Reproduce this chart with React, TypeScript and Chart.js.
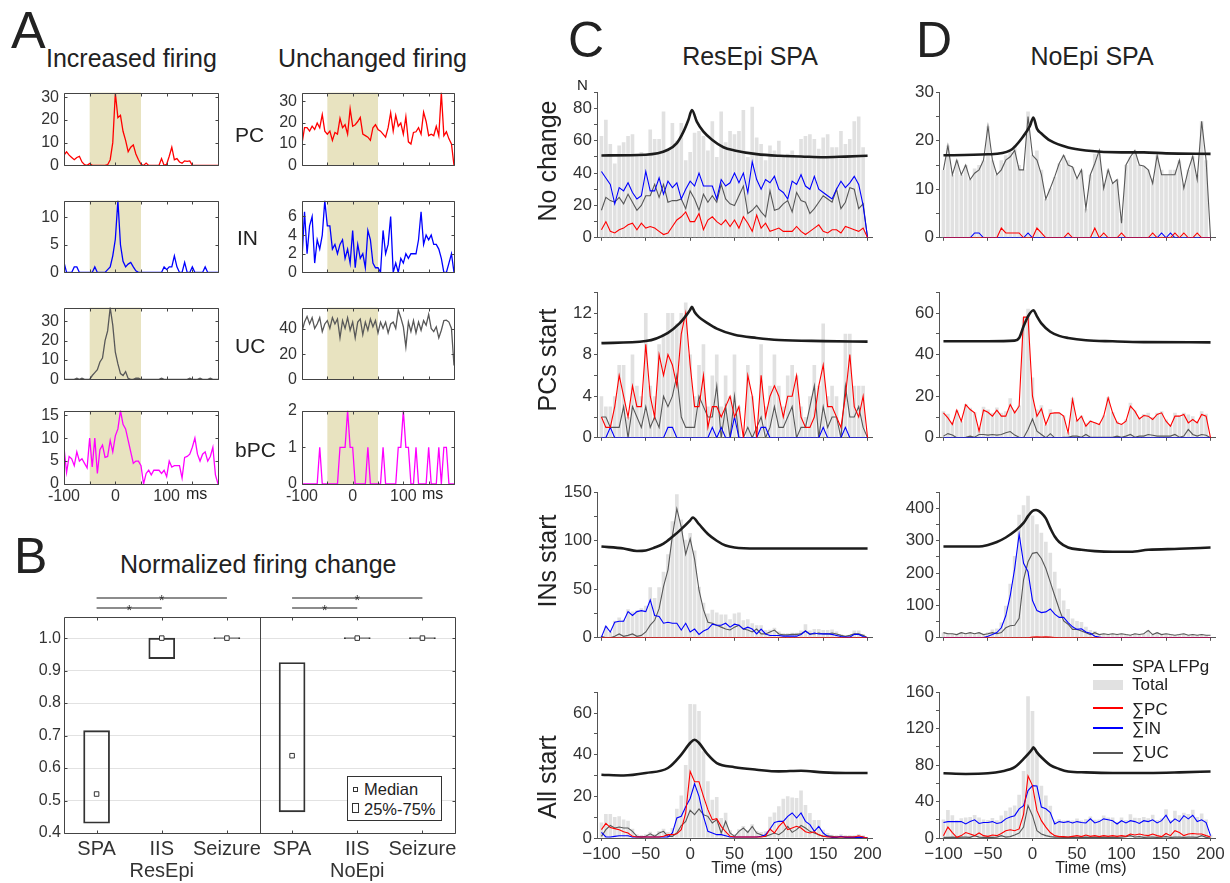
import React, { useEffect, useRef } from "react";
import { Chart, registerables } from "chart.js";

Chart.register(...registerables);

const FONT = "'Liberation Sans', Arial, Helvetica, sans-serif";
Chart.defaults.font.family = FONT;
Chart.defaults.color = "#333";

// ================= DATA =================
// time bins (ms)
const BINS = [-100,-95,-90,-85,-80,-75,-70,-65,-60,-55,-50,-45,-40,-35,-30,-25,-20,-15,-10,-5,0,5,10,15,20,25,30,35,40,45,50,55,60,65,70,75,80,85,90,95,100,105,110,115,120,125,130,135,140,145,150,155,160,165,170,175,180,185,190,195,200];

// ---- Panel A ----
const A_X_TICKS = [-100, -50, 0, 50, 100, 150, 200];
const A_X_TICK_LABELS = ["-100", "", "0", "", "100", "", ""];
const A_WINDOW = [-50, 50];

const incPC = [4.5,6,4.5,3.5,2.5,3.5,4,1.5,0.3,0,0.8, 0,0,0,0,0,0, 0.3,2.5,10,31.8,21,22,15,11,6,8,9,5,2.5,0.5,0,1, 0,0,0,0,0, 3,0,0.5,4,8,2.5,3,1.5,1,2,1.8,2, 0,0,0,0,0,0,0,0,0,0,0];
const incIN = [1.8,0,0,0,1,1,0,0,0,0,0,0,1,0,0,0,0, 0.5,1,3,6,13,5,2,1,1.5,1.8,1,0.3, 0,0,0,0,0,0,0,0,0,0, 1,0.5,1,1,3,1,0,0,1.8,0,0,1, 0,0,0,0, 1, 0,0,0,0,0];
const incUC = [0,0,0,0,0,0.6,0,0.6,0,0,0, 2,3.5,5,9,11,20,25,37,28,14,8,3,2,4,0.5, 0,0, 0.6,0.6, 0,0,0,0,0,0,0,0, 0.6, 0,0,0,0,0,0,0,0,0,0, 0.6, 0,0,0, 0.6, 0,0,0, 0.6, 0,0,0];
const incBPC = [8,2.5,6,5.5,4,7,5,5.5,4.5,3.5, 10,3.7,10,2.3,7.5,8.5,5.8,6,9.5,7, 10.5,12,16,13,12,9.5,7,4.5,5,5, 4,0,2.3,3,2,3,3,3,2.3,3, 1.6,5,3.7,4,4,4,1.3,5.8,6,6.5, 8,10,6.5,5,6.5,7,5,6,8,2, 0];
const uncPC = [10.2,17.6,17.6,16,18.3,16.8,19.8,17.6,23.7,16,14.6,16,11.7,15.4,14.6,22,17.6,19,14.6,26.4,18.3,19,20.5,22.4,14.6,13.9,13.2,11.7,17.6,19,16.8,16,14.6,13.2,17.6,24.6,16,23.4,18.3,19.8,14.6,22.7,11,10,15.4,15.7,17.6,14.6,24.9,20.5,13.9,14.6,13.9,18.3,13.9,34,13.9,15.7,12.4,10,0];
const uncIN = [1.5,6.5,2,5,6,1,3.5,2.5,4,7.7, 5,5,2.5,3,2,3,3.5,1.5,2.5,1, 4.5,0.5,3,1.5,2,0.5,4.5,3.5,1,0.5, 0.5,0,4.5,2,3,6,0,1,0,1.5, 1,2,1.5,2,2,2,3.5,6.5,3,4, 3.5,4,3,3,2.5,1.5,0,0,1,2, 0];
const uncUC = [38,45.5,50,44,49,40.5,44,49,38,44,46.7,40.5,49,44,48,33,46.7,40.5,49,39,45.5,33,45.5,48,35.6,45.5,39,48,41.8,46.7,36.9,45.5,40.5,45.5,36.9,44,45.5,40.5,55,49,41.8,25.8,45.5,38,46.7,36.9,45.5,39,46.7,43,51.6,40.5,38,41.8,33,39,46.7,47,45.5,40.5,11];
const uncBPC = [0,0,0,0,0,0,0,1,0,0, 0,0,0,0,0,1,1,1,2,1, 1,0,0,0,0,0,1,0,0,0, 0,0,1,0,0,0,0,0,1,1, 2,1,1,0,0,1,0,0,0,0, 1,0,0,0,1,0,1,1,0,0, 0];

const INC_PC_YTICKS = [0, 10, 20, 30];
const INC_IN_YTICKS = [0, 5, 10];
const INC_UC_YTICKS = [0, 10, 20, 30];
const INC_BPC_YTICKS = [0, 5, 10, 15];
const UNC_PC_YTICKS = [0, 10, 20, 30];
const UNC_IN_YTICKS = [0, 2, 4, 6];
const UNC_UC_YTICKS = [0, 20, 40];
const UNC_BPC_YTICKS = [0, 1, 2];

// ---- Panel B ----
const B_LABELS = ["SPA", ["IIS", "ResEpi"], "Seizure", "SPA", ["IIS", "NoEpi"], "Seizure"];
const B_QUARTILES = [[0.43, 0.715], [0.937, 1.0], [0.998, 1.002], [0.465, 0.925], [0.998, 1.002], [0.998, 1.002]];
const B_MEDIANS = [0.52, 1.0, 1.0, 0.638, 1.0, 1.0];
const B_YTICKS = [0.4, 0.5, 0.6, 0.7, 0.8, 0.9, 1.0];
const B_SIG = [{ a: 0, b: 2, row: 1 }, { a: 0, b: 1, row: 0 }, { a: 3, b: 5, row: 1 }, { a: 3, b: 4, row: 0 }];

// ---- Panels C / D ----
const T_X_TICKS = [-100, -50, 0, 50, 100, 150, 200];
const T_X_TICK_LABELS = ["\u2212100", "\u221250", "0", "50", "100", "150", "200"];

// C: ResEpi, No change
const cNoTotal = [63,73,58,46,57,59,63,64,52,53,52,67,61,61,78,55,71,60,71,48,53,65,66,63,54,72,50,78,59,66,64,66,79,50,81,62,58,48,57,54,60,50,52,54,50,61,63,64,61,55,62,64,56,56,66,58,61,72,75,56,0];
const cNoPC = [5,10,4,3,5,6,8,9,5,9,6,7,6,4,2,3,7,11,13,16,10,10,15,5,11,13,10,8,11,7,11,6,13,9,4,14,6,9,4,5,6,4,4,4,7,4,2,4,6,8,4,3,5,5,3,7,6,5,4,6,0];
const cNoIN = [41,37,33,21,31,29,34,28,24,26,41,29,29,37,27,35,31,34,24,30,35,32,40,32,32,32,24,36,32,34,40,34,40,28,47,36,30,36,34,38,30,28,24,35,33,39,32,30,38,30,28,26,24,30,35,31,34,38,33,20,0];
const cNoUC = [17,25,23,22,25,21,27,22,17,20,26,26,33,25,33,22,23,23,24,18,29,24,17,27,22,26,22,33,24,21,20,26,32,15,17,20,16,13,29,17,18,21,23,16,28,23,22,15,18,22,26,24,22,30,18,22,31,30,18,21,0];
const cNoLfpX = [-100,-50,-25,-15,-7.5,-2,2,7.5,15,25,37.5,50,75,100,125,150,175,200];
const cNoLfpY = [50.9,51.3,54.4,58.5,65.6,72.8,79,71.8,65.6,60.5,56,54,51.7,50.7,50.3,49.8,50.2,50.7];
const C_NO_YTICKS = [0,10,20,30,40,50,60,70,80,90];
const C_NO_YLABELS = [0,20,40,60,80];

// C: ResEpi, PCs start
const cPcTotal = [4,3,3,4,7,7,2,8,5,4,12,5,4,9,10,12,12,11,12,13,8,4,7,9,3,6,8,3,6,4,8,3,0,7,4,1,9,3,5,8,5,3,6,7,6,3,2,4,7,5,11,4,5,4,1,10,10,5,5,5,0];
const cPcPC = [2,1,1,3,6,4,2,5,3,3,9,4,2,8,6,8,7,5,10,12,7,3,3,6,1,3,3,2,3,4,2,3,0,6,4,0,6,2,4,5,4,2,4,4,6,2,1,1,2,5,7,3,3,2,1,4,8,3,2,4,0];
const cPcIN = [0,0,1,0,0,0,0,0,0,0, 0,0,0,0,0,1,1,0,0,0, 0,0,0,0,0,1,0,1,0,0, 2,0,0,0,0,0,1,1,0,0, 0,0,0,0,0,0,0,0,0,0, 1,0,0,0,0,1,0,0,0,0, 0];
const cPcUC = [2,2,1,1,1,3,0,3,2,1,3,1,2,1,4,3,4,6,2,1,1,1,4,3,2,2,5,0,3,0,4,0,0,1,0,1,2,0,1,3,1,1,2,3,0,1,1,3,5,0,3,1,2,2,0,5,2,2,3,1,0];
const cPcLfpX = [-100,-50,-25,-12,-5,0,2,5,10,20,30,50,75,100,150,200];
const cPcLfpY = [9.1,9.3,10.1,11,11.7,12.3,12.6,12.1,11.6,11,10.5,9.9,9.6,9.4,9.3,9.25];
const C_PC_YTICKS = [0,2,4,6,8,10,12,14];
const C_PC_YLABELS = [0,4,8,12];

// C: ResEpi, INs start
const cInTotal = [2.2,12,6,17.5,21,18.5,29.5,27,28.5,30.5,33,52,41,52,68,86,120,148,122,101,108,90,52.5,36,25,29,26,24,24,19,25,26,18,19,15,13,13,8,8.4,10.4,6.4,4.7,4.7,5.2,5.2,7.5,14,7.5,9,9,8,8,8.5,6.4,3.9,2.2,3.2,7.5,7.5,3.9,0];
const cInPC = [0,0,0,0,0,0,0,0,0,0, 0,0,0,0,0,0,0,0,0,0, 0,0,0,0,0,0,0,0,0,0, 0,0,0,0,0,0,0,0,0,0, 0,0,0,0,0,0,0,0,0,0, 0,0,0,0,0,0,0,0,0,0, 0];
const cInIN = [0.7,12,6,16,17,17,27,23,27,28,27,39,23,22,15,16,15,15,8,15,6,9,3.5,7,9,14,13,13,15,11,14,13,9,11,9,4,9,4,2.4,2.4,2.4,1.7,1.7,1.7,1.7,3.5,7,3.5,5,4,4,4,3.5,2.4,1.4,0.7,0.7,3.5,3.5,1.4,0];
const cInUC = [1.5,0,0,1.5,4,1.5,2.5,4,1.5,2.5,6,13,18,30,53,70,105,133,114,86,102,81,49,29,16,15,13,11,9,8,11,13,9,8,6,9,4,4,6,8,4,3,3,3.5,3.5,4,7,4,4,5,4,4,5,4,2.5,1.5,2.5,4,4,2.5,0];
const cInLfpX = [-100,-75,-60,-50,-40,-30,-20,-10,0,3,10,20,30,40,50,75,100,150,200];
const cInLfpY = [94,92,89.5,90,93,97,104,112,121,124,117,107,100,95,93,92,92,92,92];
const C_IN_YTICKS = [0,25,50,75,100,125,150];
const C_IN_YLABELS = [0,50,100,150];

// C: ResEpi, All start
const cAllTotal = [7.5,11.5,11.5,10.1,10.4,8.9,8.3,4.5,1.8,1.5,1.8,3,1.8,3.4,4.5,2.9,4.8,14,20.4,35,64.3,64.2,61,41.6,27.2,18.4,19.7,9.6,12.1,3.7,1.8,4.2,5.8,3.7,6.6,3.4,2.9,3.2,10.2,12.3,15.2,18.9,20,19.5,19.2,22.8,15.8,12,8.6,8.7,4,2.4,1.6,1.3,1.8,1.3,1.3,1.3,1.9,1.3,0];
const cAllPC = [4,7,5,4.5,4,3,2.4,0.8,0.5,0.5, 0.5,0.5,0.5,0.5,0.8,1.6,1.6,2,4,12, 32,27,27,20,13.6,8.8,9.3,5.6,3,0.8, 0.5,0.5,0.5,0.5,0.5,0.5,0.5,0.8,4.3,2.4, 5.6,7.7,4,4.8,5.6,4.8,3,2.4,3,1.5, 0.8,0.5,0.5,0.5,0.5,0.5,0.5,0.5,1.1,0.5, 0];
const cAllIN = [2.7,0.5,0.5,0.8,1.1,1.1,1.1,0.5,0.5,0.5, 0.5,0.5,0.5,0.5,0.5,0.5,2.4,9.6,10.4,15, 19,26,20,10.4,3.2,2.4,1.6,1.6,1.1,0.5, 0.5,0.5,0.5,0.5,0.5,0.5,0.8,1.6,4.3,7.5, 8,8,10.4,12,9.6,12,8,6.4,3.2,5.6, 2.4,0.8,0.3,0.3,0.8,0.3,0.3,0.3,0.3,0.3, 0];
const cAllUC = [0.8,4,6,4.8,5.3,4.8,4.8,3.2,0.8,0.5, 0.8,2,0.8,2.4,3.2,0.8,0.8,2.4,6,8, 13.3,11.2,14,11.2,10.4,7.2,8.8,2.4,8,2.4, 0.8,3.2,4.8,2.7,5.6,2.4,1.6,0.8,1.6,2.4, 1.6,3.2,5.6,2.7,4,6,4.8,3.2,2.4,1.6, 0.8,1.1,0.8,0.5,0.5,0.5,0.5,0.5,0.5,0.5, 0];
const cAllLfpX = [-100,-75,-50,-25,-10,0,5,10,20,30,50,75,100,125,150,175,200];
const cAllLfpY = [30.4,30,31.2,33.6,40,45.6,47.2,45.6,40,36,34,32.8,32,32.3,31.5,31.2,31.2];
const C_ALL_YTICKS = [0,10,20,30,40,50,60,70];
const C_ALL_YLABELS = [0,20,40,60];

// D: NoEpi, No change
const dNoTotal = [14,19,13,16,13,15,12,14.3,15,16,23,16,13,16,17,17.7,19,15,14,26,17,18,14,8,10.2,12.6,15.3,17,16,14.6,12.2,14,6,13,17.3,18,11.2,14,11.2,12,4,15,16.7,18,15,14.8,14,12.2,17,14,13,14,14,16,11.2,14,16.8,13,24,16,0];
const dNoPC = [0,0,0,0,0,0,0,0,0,0,0,0,0,2,1,1,1,1,0,0,0,2,1,0,0,0,0,0,1,0,0,0,0,0,2,0,1,0,0,0,1,0,0,0,0,0,0,1,0,0,0,0,1,0,1,0,0,1,0,0,0];
const dNoIN = [0,0,0,0,0,0,0,1,1,0,0,0,0,0,0,0,0,0,0,1,0,0,0,0,0,0,0,0,0,0,0,0,0,0,0,0,0,0,0,0,0,0,0,0,0,0,0,0,0,1,0,1,0,0,0,0,0,0,0,0,0];
const dNoUC = [14,19,13,16,13,15,12,13.3,14,16,23,16,13,14,16,16.7,18,14,14,25,17,16,13,8,10.2,12.6,15.3,17,15,14.6,12.2,14,6,13,15.3,18,10.2,14,11.2,12,3,15,16.7,18,15,14.8,14,11.2,17,13,13,13,13,16,10.2,14,16.8,12,24,16,0];
const dNoLfpX = [-100,-50,-25,-10,-3,1,5,10,20,40,60,100,125,150,200];
const dNoLfpY = [17,17.2,18,21,23,24.8,22.5,21.5,20,18.6,18,17.6,17.6,17.4,17.3];
const D_NO_YTICKS = [0,5,10,15,20,25,30];
const D_NO_YLABELS = [0,10,20,30];

// D: NoEpi, PCs start
const dPcTotal = [12.8,11.6,7.7,13.3,8,16.3,14.4,12.3,4.8,14.9,13.6,12,14.6,12,12.8,19,13.3,15.5,58,62,29,13.6,15.6,6.4,13.7,12,12,10.7,2.7,19.2,8.8,10.7,7.2,8.3,7.5,6.7,10.7,19.5,12.3,8,6.7,8.8,16.8,13.1,9.9,11.5,12,10,12,12.8,8.8,6.4,12,10.7,12,11.2,10.4,8,12.8,11.6,0];
const dPcPC = [12,9.6,6.4,13.3,8,16,13.6,12,3.2,13.3, 12.3,10.4,13.3,10.4,10.4,16,12,15.2,58,58, 20,10.4,14,6.4,11.7,12,12,10.4,2.4,18.4, 8,10.4,5.6,8,7.2,6.4,10.4,19.2,12,7.2, 6.4,8,15.2,12.8,9.1,10.7,10.4,8.8,11.2,12, 8,5.6,10.4,10.4,11.2,7.2,8.8,7.2,11.2,10.4, 0];
const dPcIN = [0,0,0,0,0,0,0,0,0,0, 0,0,0,0,0,0,0,0,0,0, 0,0,0,0,0,0,0,0,0,0, 0,0,0,0,0,0,0,0,0,0, 0,0,0,0,0,0,0,0,0,0, 0,0,0,0,0,0,0,0,0,0, 0];
const dPcUC = [0.8,2,1.3,0,0,0.3,0.8,0.3,1.6,1.6, 1.3,1.6,1.3,1.6,2.4,3,1.3,0.3,0,4, 9,3.2,1.6,0,2,0,0,0.3,0.3,0.8, 0.8,0.3,1.6,0.3,0.3,0.3,0.3,0.3,0.3,0.8, 0.3,0.8,1.6,0.3,0.8,0.8,1.6,1.2,0.8,0.8, 0.8,0.8,1.6,0.3,0.8,4,1.6,0.8,1.6,1.2, 0];
const dPcLfpX = [-100,-50,-20,-15,-10,-5,1,5,10,20,30,40,60,90,125,200];
const dPcLfpY = [46.4,46.4,46.7,48,53.6,58.4,61.3,58.4,55,51,49,48,46.9,46.4,46,45.9];
const D_PC_YTICKS = [0,10,20,30,40,50,60,70];
const D_PC_YLABELS = [0,20,40,60];

// D: NoEpi, INs start
const dInTotal = [16,12.5,12.5,10,16,12.5,16,12.5,16,11, 17.5,26,28.5,47,99,167,253,380,410,439, 378,351,325,297,263,204,152,115,89,60, 52,49,34,24,21,12,12.5,10,12.5,10, 12.5,10,8,12.5,10,12.5,23,10,16,10, 12.5,10,8,10,12.5,8,10,8,10,8, 0];
const dInPC = [0,0,0,0,0,0,0,0,0,0, 0,0,0,0,0,0,0,0,0,0, 2,3,2,3,2,1,0,0,0,0, 0,0,0,0,0,0,0,0,0,0, 0,0,0,0,0,0,0,0,0,0, 0,0,0,0,0,0,0,0,0,0, 0];
const dInIN = [0,0,0,0,0,0,0,0,0,1, 5,10,16,31,68,130,214,320,230,204, 115,84,78,80,89,73,63,63,47,34, 26,28,18,14,5,2,0,0,0,0, 0,0,0,0,0,0,0,0,0,0, 0,0,0,0,0,0,0,0,0,0, 0];
const dInUC = [16,12.5,12.5,10,16,12.5,16,12.5,16,10, 12.5,16,12.5,16,31,37,39,60,180,235, 261,264,245,214,172,130,89,52,42,26, 26,21,16,10,16,10,12.5,10,12.5,10, 12.5,10,8,12.5,10,12.5,23,10,16,10, 12.5,10,8,10,12.5,8,10,8,10,8, 8];
const dInLfpX = [-100,-60,-50,-40,-30,-20,-10,-5,0,4,10,15,20,25,30,40,55,70,90,110,130,165,200];
const dInLfpY = [282,282,287,296,310,329,355,376,392,395,386,369,339,313,296,279,272,268,266,266,272,275,279];
const D_IN_YTICKS = [0,50,100,150,200,250,300,350,400,450];
const D_IN_YLABELS = [0,100,200,300,400];

// D: NoEpi, All start
const dAllTotal = [20.3,30.7,25,19.4,21.6,22.4,23.1,25.2,22.5,20.3, 19.8,22,19.6,24.6,30,33.5,35.8,47.5,73.5,155.5, 139.5,95,57.4,46.6,35.5,19,20.5,19.2,19.8,19.3, 21.3,19.2,20.8,23.5,20.1,20.2,24.6,22.5,22.6,17.9, 22.6,19.8,26,22.3,21.9,23,21.6,25.4,19.8,21.5, 31.5,19.8,30,25,27.8,26.4,31,23.1,27,20.3, 3.6];
const dAllPC = [2.6,12,6,0.7,2.6,6,4.4,2.6,5.5,2.6, 1.8,3.3,2.6,5,8,9,8,10,26,68, 57.5,30,19,12,6,2.6,1.5,1.5,1.1,1.8, 2.6,1.5,3.3,1.8,2.6,1.5,2.6,1.8,2.6,1.8, 2.6,1.8,4.4,3.3,4.4,3.3,2.6,4.4,2.6,1.5, 5,2.6,8,6,2.6,4.4,5,4.4,4.4,2.6, 1];
const dAllIN = [17,18,18,18,18,15.4,18,20,16,17, 17,18,16,17,21,23,24.5,32,35.5,52, 57.5,57,34,32,28,15.4,18,17,18,16.5, 18,17,16.5,21,16.5,18,21,20,19,15.4, 19,16.5,19,18,16,19,18,20,16.5,19, 25,16.5,21,18,24.5,21,25,18,20,17, 2.6];
const dAllUC = [0.7,0.7,1,0.7,1,1,0.7,2.6,1,0.7, 1,0.7,1,2.6,1,1.5,3.3,5.5,12,35.5, 24.5,8,4.4,2.6,1.5,1,1,0.7,0.7,1, 0.7,0.7,1,0.7,1,0.7,1,0.7,1,0.7, 1,1.5,2.6,1,1.5,0.7,1,1,0.7,1, 1.5,0.7,1,1,0.7,1,1,0.7,2.6,0.7, 0];
const dAllLfpX = [-100,-75,-50,-35,-20,-10,-5,0,1,5,10,20,30,40,60,90,130,165,200];
const dAllLfpY = [71,70.3,71,73,77.7,86.8,92,98,99.6,94,88.6,80,75.8,73,72,71.4,71.4,72,73];
const D_ALL_YTICKS = [0,20,40,60,80,100,120,140,160];
const D_ALL_YLABELS = [0,40,80,120,160];

// ================= STYLE =================
const RED = "rgb(255,0,0)";
const BLUE = "rgb(0,0,255)";
const GRAY_LINE = "rgb(88,88,88)";
const MAGENTA = "rgb(255,0,255)";
const BAR = "rgb(225,225,225)";
const LFP = "rgb(28,28,28)";
const SHADE = "rgb(232,227,192)";
const AXIS = "#555";

const PAD_T = 12;
const PAD_R = 18;

// ================= PLUGINS =================
const framePlugin = {
  id: "frame",
  afterDatasetsDraw(chart: any, _args: any, o: any) {
    if (!o || !o.color) return;
    const { ctx, chartArea: a } = chart;
    const xs = chart.scales.x, ys = chart.scales.y;
    const L = Math.round(a.left) + 0.5, R = Math.round(a.right) + 0.5;
    const T = Math.round(a.top) + 0.5, B = Math.round(a.bottom) + 0.5;
    ctx.save();
    ctx.strokeStyle = o.color;
    ctx.lineWidth = 1;
    ctx.beginPath();
    ctx.rect(L, T, R - L, B - T);
    const k = o.tick || 0;
    if (k > 0) {
      xs.ticks.forEach((_t: any, i: number) => {
        const p = Math.round(xs.getPixelForTick(i)) + 0.5;
        ctx.moveTo(p, T); ctx.lineTo(p, T + k);
        ctx.moveTo(p, B); ctx.lineTo(p, B - k);
      });
      ys.ticks.forEach((_t: any, i: number) => {
        const p = Math.round(ys.getPixelForTick(i)) + 0.5;
        ctx.moveTo(L, p); ctx.lineTo(L + k, p);
        ctx.moveTo(R, p); ctx.lineTo(R - k, p);
      });
    }
    ctx.stroke();
    ctx.restore();
  },
};

const bandPlugin = {
  id: "band",
  beforeDatasetsDraw(chart: any, _args: any, o: any) {
    if (!o || o.from === undefined) return;
    const { ctx, chartArea: a } = chart;
    const x = chart.scales.x;
    const x0 = x.getPixelForValue(o.from), x1 = x.getPixelForValue(o.to);
    ctx.save();
    ctx.fillStyle = o.color;
    ctx.fillRect(x0, a.top, x1 - x0, a.bottom - a.top);
    ctx.restore();
  },
};

const bExtrasPlugin = {
  id: "bExtras",
  afterDraw(chart: any, _args: any, o: any) {
    if (!o || !o.pairs) return;
    const { ctx, chartArea: a } = chart;
    const x = chart.scales.x;
    ctx.save();
    ctx.strokeStyle = "#444";
    ctx.lineWidth = 1;
    const xd = Math.round((x.getPixelForTick(o.divider[0]) + x.getPixelForTick(o.divider[1])) / 2) + 0.5;
    ctx.beginPath();
    ctx.moveTo(xd, a.top);
    ctx.lineTo(xd, a.bottom);
    ctx.stroke();
    ctx.strokeStyle = "#666";
    ctx.lineWidth = 1.6;
    ctx.fillStyle = "#333";
    ctx.font = `14px ${FONT}`;
    ctx.textAlign = "center";
    ctx.textBaseline = "alphabetic";
    o.pairs.forEach((p: any) => {
      const y = Math.round(a.top - o.rowOffsets[p.row]);
      const x0 = x.getPixelForTick(p.a), x1 = x.getPixelForTick(p.b);
      ctx.beginPath();
      ctx.moveTo(x0, y);
      ctx.lineTo(x1, y);
      ctx.stroke();
      ctx.fillText("*", (x0 + x1) / 2, y + 7);
    });
    ctx.restore();
  },
};

// ================= HELPERS =================
function pts(xs: number[], ys: number[]) {
  return xs.map((x, i) => ({ x, y: ys[i] }));
}

const baseOpts = {
  responsive: false,
  maintainAspectRatio: false,
  animation: false,
  events: [] as string[],
};

function aConfig(values: number[], color: string, yMax: number, yTicks: number[], showX: boolean, xH: number, yW: number) {
  return {
    type: "line",
    data: {
      datasets: [{ data: pts(BINS, values), borderColor: color, borderWidth: 1.3, pointRadius: 0, tension: 0, fill: false }],
    },
    options: {
      ...baseOpts,
      layout: { padding: { top: PAD_T, right: PAD_R, bottom: 0, left: 0 } },
      plugins: {
        legend: { display: false },
        tooltip: { enabled: false },
        frame: { color: "#444", tick: 3 },
        band: { from: A_WINDOW[0], to: A_WINDOW[1], color: SHADE },
      },
      scales: {
        x: {
          type: "linear", min: -100, max: 200, offset: false,
          afterBuildTicks: (s: any) => { s.ticks = A_X_TICKS.map((v) => ({ value: v })); },
          afterFit: (s: any) => { s.height = xH; },
          grid: { display: false, drawTicks: false },
          border: { display: false },
          ticks: { display: showX, autoSkip: false, maxRotation: 0, padding: 3, font: { size: 16 }, color: "#333",
            callback: (_v: any, i: number) => A_X_TICK_LABELS[i] },
        },
        y: {
          type: "linear", min: 0, max: yMax,
          afterBuildTicks: (s: any) => { s.ticks = yTicks.map((v) => ({ value: v })); },
          afterFit: (s: any) => { s.width = yW; },
          grid: { display: false, drawTicks: false },
          border: { display: false },
          ticks: { autoSkip: false, padding: 5, font: { size: 16 }, color: "#333" },
        },
      },
    },
    plugins: [bandPlugin, framePlugin],
  };
}

function tConfig(p: any) {
  return {
    type: "line",
    data: {
      datasets: [
        { type: "line", data: pts(p.lfpX, p.lfpY), borderColor: LFP, borderWidth: 2.6, pointRadius: 0, cubicInterpolationMode: "monotone", order: 0 },
        { type: "line", data: pts(BINS, p.pc), borderColor: RED, borderWidth: 1.1, pointRadius: 0, tension: 0, order: 1 },
        { type: "line", data: pts(BINS, p.inn), borderColor: BLUE, borderWidth: 1.1, pointRadius: 0, tension: 0, order: 2 },
        { type: "line", data: pts(BINS, p.uc), borderColor: GRAY_LINE, borderWidth: 1.1, pointRadius: 0, tension: 0, order: 3 },
        { type: "bar", data: pts(BINS, p.total), backgroundColor: BAR, borderWidth: 0, categoryPercentage: 1, barPercentage: 0.82, order: 10 },
      ],
    },
    options: {
      ...baseOpts,
      layout: { padding: { top: PAD_T, right: PAD_R, bottom: 0, left: 0 } },
      plugins: { legend: { display: false }, tooltip: { enabled: false } },
      scales: {
        x: {
          type: "linear", min: -105, max: 205, offset: false,
          afterBuildTicks: (s: any) => { s.ticks = T_X_TICKS.map((v) => ({ value: v })); },
          afterFit: (s: any) => { s.height = p.xH; },
          grid: { display: true, drawOnChartArea: false, drawTicks: true, tickLength: 3, color: AXIS, offset: false },
          border: { display: true, color: AXIS, width: 1 },
          ticks: { display: p.showX, autoSkip: false, maxRotation: 0, padding: 3, font: { size: 17 }, color: "#333",
            callback: (_v: any, i: number) => T_X_TICK_LABELS[i] },
        },
        y: {
          type: "linear", min: 0, max: p.yMax,
          afterBuildTicks: (s: any) => { s.ticks = p.yTicks.map((v: number) => ({ value: v })); },
          afterFit: (s: any) => { s.width = p.yW; },
          grid: { display: true, drawOnChartArea: false, drawTicks: true, tickLength: 3, color: AXIS },
          border: { display: true, color: AXIS, width: 1 },
          ticks: { autoSkip: false, padding: 2, font: { size: 17 }, color: "#333",
            callback: (v: any) => (p.yLabels.indexOf(v) >= 0 ? String(v) : "") },
        },
      },
    },
  };
}

function bConfig(yW: number, xH: number, padT: number) {
  return {
    type: "bar",
    data: {
      labels: B_LABELS,
      datasets: [
        { type: "bar", data: B_QUARTILES, backgroundColor: "rgba(255,255,255,0)", borderColor: "#333", borderWidth: 1.2, borderSkipped: false, barThickness: 26, order: 2 },
        { type: "line", data: B_MEDIANS, showLine: false, pointStyle: "rect", pointRadius: 3.2, pointBackgroundColor: "#fff", pointBorderColor: "#333", pointBorderWidth: 1, order: 1 },
      ],
    },
    options: {
      ...baseOpts,
      layout: { padding: { top: padT, right: PAD_R, bottom: 0, left: 0 } },
      plugins: {
        legend: { display: false },
        tooltip: { enabled: false },
        frame: { color: "#444", tick: 3 },
        bExtras: { pairs: B_SIG, rowOffsets: [9, 19], divider: [2, 3] },
      },
      scales: {
        x: {
          type: "category", offset: true,
          afterFit: (s: any) => { s.height = xH; },
          grid: { display: false, drawTicks: false },
          border: { display: false },
          ticks: { autoSkip: false, maxRotation: 0, padding: 5, font: { size: 20, lineHeight: 1.1 }, color: "#333" },
        },
        y: {
          type: "linear", min: 0.4, max: 1.065,
          afterBuildTicks: (s: any) => { s.ticks = B_YTICKS.map((v) => ({ value: v })); },
          afterFit: (s: any) => { s.width = yW; },
          grid: { display: true, drawTicks: false, color: "#e2e2e2", lineWidth: 1 },
          border: { display: false },
          ticks: { autoSkip: false, padding: 3, font: { size: 16 }, color: "#333", callback: (v: any) => Number(v).toFixed(1) },
        },
      },
    },
    plugins: [framePlugin, bExtrasPlugin],
  };
}

function ChartCanvas(props: { left: number; top: number; width: number; height: number; config: () => any }) {
  const ref = useRef<HTMLCanvasElement | null>(null);
  useEffect(() => {
    if (!ref.current) return;
    const chart = new Chart(ref.current, props.config() as any);
    return () => chart.destroy();
  }, []);
  return (
    <canvas
      ref={ref}
      width={props.width}
      height={props.height}
      style={{ position: "absolute", left: props.left, top: props.top, width: props.width, height: props.height }}
    />
  );
}

function Txt(props: { x: number; y: number; size: number; children: any; center?: boolean }) {
  return (
    <div
      style={{
        position: "absolute",
        left: props.x,
        top: props.y - 0.8465 * props.size,
        fontSize: props.size,
        lineHeight: 1,
        whiteSpace: "nowrap",
        transform: props.center ? "translateX(-50%)" : undefined,
        color: "#222",
      }}
    >
      {props.children}
    </div>
  );
}

function VTxt(props: { cx: number; cy: number; size: number; children: any }) {
  return (
    <div
      style={{
        position: "absolute",
        left: props.cx,
        top: props.cy,
        fontSize: props.size,
        lineHeight: 1,
        whiteSpace: "nowrap",
        transform: "translate(-50%,-50%) rotate(-90deg)",
        color: "#222",
      }}
    >
      {props.children}
    </div>
  );
}

// ================= LAYOUT =================
const A_YW = 40;
const A_ROWS = [
  { y: 90, h: 78 },
  { y: 198, h: 77 },
  { y: 305, h: 77 },
  { y: 408, h: 76 },
];
const A_COLS = [{ x: 64, w: 154 }, { x: 302, w: 152 }];

const T_YW = 45;
const T_ROWS_Y = [92, 292, 492, 692];
const T_H = 146;
const T_COLS = [{ x: 597, w: 275 }, { x: 939, w: 276 }];

export default function App() {
  const aSeries = [
    [
      { v: incPC, c: RED, max: 32, t: INC_PC_YTICKS },
      { v: incIN, c: BLUE, max: 13, t: INC_IN_YTICKS },
      { v: incUC, c: GRAY_LINE, max: 37, t: INC_UC_YTICKS },
      { v: incBPC, c: MAGENTA, max: 16, t: INC_BPC_YTICKS },
    ],
    [
      { v: uncPC, c: RED, max: 34, t: UNC_PC_YTICKS },
      { v: uncIN, c: BLUE, max: 7.7, t: UNC_IN_YTICKS },
      { v: uncUC, c: GRAY_LINE, max: 57, t: UNC_UC_YTICKS },
      { v: uncBPC, c: MAGENTA, max: 2, t: UNC_BPC_YTICKS },
    ],
  ];

  const tSeries = [
    [
      { total: cNoTotal, pc: cNoPC, inn: cNoIN, uc: cNoUC, lfpX: cNoLfpX, lfpY: cNoLfpY, yMax: 90, yTicks: C_NO_YTICKS, yLabels: C_NO_YLABELS },
      { total: cPcTotal, pc: cPcPC, inn: cPcIN, uc: cPcUC, lfpX: cPcLfpX, lfpY: cPcLfpY, yMax: 14, yTicks: C_PC_YTICKS, yLabels: C_PC_YLABELS },
      { total: cInTotal, pc: cInPC, inn: cInIN, uc: cInUC, lfpX: cInLfpX, lfpY: cInLfpY, yMax: 150, yTicks: C_IN_YTICKS, yLabels: C_IN_YLABELS },
      { total: cAllTotal, pc: cAllPC, inn: cAllIN, uc: cAllUC, lfpX: cAllLfpX, lfpY: cAllLfpY, yMax: 70, yTicks: C_ALL_YTICKS, yLabels: C_ALL_YLABELS },
    ],
    [
      { total: dNoTotal, pc: dNoPC, inn: dNoIN, uc: dNoUC, lfpX: dNoLfpX, lfpY: dNoLfpY, yMax: 30, yTicks: D_NO_YTICKS, yLabels: D_NO_YLABELS },
      { total: dPcTotal, pc: dPcPC, inn: dPcIN, uc: dPcUC, lfpX: dPcLfpX, lfpY: dPcLfpY, yMax: 70, yTicks: D_PC_YTICKS, yLabels: D_PC_YLABELS },
      { total: dInTotal, pc: dInPC, inn: dInIN, uc: dInUC, lfpX: dInLfpX, lfpY: dInLfpY, yMax: 450, yTicks: D_IN_YTICKS, yLabels: D_IN_YLABELS },
      { total: dAllTotal, pc: dAllPC, inn: dAllIN, uc: dAllUC, lfpX: dAllLfpX, lfpY: dAllLfpY, yMax: 160, yTicks: D_ALL_YTICKS, yLabels: D_ALL_YLABELS },
    ],
  ];

  const canvases: any[] = [];
  A_COLS.forEach((col, ci) => {
    A_ROWS.forEach((row, ri) => {
      const s = aSeries[ci][ri];
      const last = ri === A_ROWS.length - 1;
      const xH = last ? 26 : 12;
      canvases.push(
        <ChartCanvas
          key={`a${ci}${ri}`}
          left={col.x - A_YW}
          top={row.y - PAD_T}
          width={A_YW + col.w + PAD_R}
          height={PAD_T + row.h + xH}
          config={() => aConfig(s.v, s.c, s.max, s.t, last, xH, A_YW)}
        />
      );
    });
  });

  T_COLS.forEach((col, ci) => {
    T_ROWS_Y.forEach((y, ri) => {
      const s = tSeries[ci][ri];
      const last = ri === T_ROWS_Y.length - 1;
      const xH = last ? 30 : 12;
      canvases.push(
        <ChartCanvas
          key={`t${ci}${ri}`}
          left={col.x - T_YW}
          top={y - PAD_T}
          width={T_YW + col.w + PAD_R}
          height={PAD_T + T_H + xH}
          config={() => tConfig({ ...s, showX: last, xH, yW: T_YW })}
        />
      );
    });
  });

  // Panel B
  const B_AREA = { x: 64, y: 617, w: 391, h: 216 };
  const B_YW = 60, B_XH = 52, B_PADT = 30;
  canvases.push(
    <ChartCanvas
      key="b"
      left={B_AREA.x - B_YW}
      top={B_AREA.y - B_PADT}
      width={B_YW + B_AREA.w + PAD_R}
      height={B_PADT + B_AREA.h + B_XH}
      config={() => bConfig(B_YW, B_XH, B_PADT)}
    />
  );

  const legendLine = (x: number, y: number, color: string, h: number) => (
    <div style={{ position: "absolute", left: x, top: y - h / 2, width: 30, height: h, background: color }} />
  );

  return (
    <div style={{ position: "absolute", left: 0, top: 0, width: 1230, height: 883, background: "#fff", overflow: "hidden", fontFamily: FONT }}>
      {canvases}

      {/* panel letters */}
      <Txt x={11} y={48} size={52}>A</Txt>
      <Txt x={14} y={573} size={50}>B</Txt>
      <Txt x={568} y={57} size={50}>C</Txt>
      <Txt x={916} y={57} size={50}>D</Txt>

      {/* A titles and row labels */}
      <Txt x={46} y={67} size={25}>Increased firing</Txt>
      <Txt x={278} y={67} size={25}>Unchanged firing</Txt>
      <Txt x={235} y={142} size={21}>PC</Txt>
      <Txt x={237} y={245} size={21}>IN</Txt>
      <Txt x={235} y={353} size={21}>UC</Txt>
      <Txt x={235} y={457} size={21}>bPC</Txt>
      <Txt x={186} y={500} size={16}>ms</Txt>
      <Txt x={422} y={500} size={16}>ms</Txt>

      {/* B */}
      <Txt x={120} y={573} size={25}>Normalized firing change</Txt>
      <div style={{ position: "absolute", left: 347, top: 776, width: 95, height: 45, border: "1px solid #333", background: "#fff", boxSizing: "border-box" }} />
      <div style={{ position: "absolute", left: 353, top: 787, width: 5, height: 5, border: "1px solid #333", boxSizing: "border-box" }} />
      <div style={{ position: "absolute", left: 352, top: 803, width: 7, height: 10, border: "1px solid #333", boxSizing: "border-box" }} />
      <Txt x={364} y={795} size={16.5}>Median</Txt>
      <Txt x={364} y={815} size={16.5}>25%-75%</Txt>

      {/* C/D titles */}
      <Txt x={750} y={65} size={25} center>ResEpi SPA</Txt>
      <Txt x={1092} y={65} size={25} center>NoEpi SPA</Txt>
      <Txt x={577} y={90} size={15}>N</Txt>
      <VTxt cx={547} cy={161} size={25}>No change</VTxt>
      <VTxt cx={547} cy={360} size={25}>PCs start</VTxt>
      <VTxt cx={547} cy={561} size={25}>INs start</VTxt>
      <VTxt cx={547} cy={777} size={25}>All start</VTxt>
      <Txt x={747} y={874} size={16} center>Time (ms)</Txt>
      <Txt x={1091} y={874} size={16} center>Time (ms)</Txt>

      {/* D legend */}
      {legendLine(1093, 665, LFP, 2.6)}
      <div style={{ position: "absolute", left: 1093, top: 680, width: 30, height: 10, background: BAR }} />
      {legendLine(1093, 708, RED, 1.5)}
      {legendLine(1093, 728, BLUE, 1.5)}
      {legendLine(1093, 753, GRAY_LINE, 1.5)}
      <Txt x={1132} y={672} size={17}>SPA LFPg</Txt>
      <Txt x={1132} y={690} size={17}>Total</Txt>
      <Txt x={1132} y={715} size={17}>{"\u2211PC"}</Txt>
      <Txt x={1132} y={734} size={17}>{"\u2211IN"}</Txt>
      <Txt x={1132} y={758} size={17}>{"\u2211UC"}</Txt>
    </div>
  );
}
